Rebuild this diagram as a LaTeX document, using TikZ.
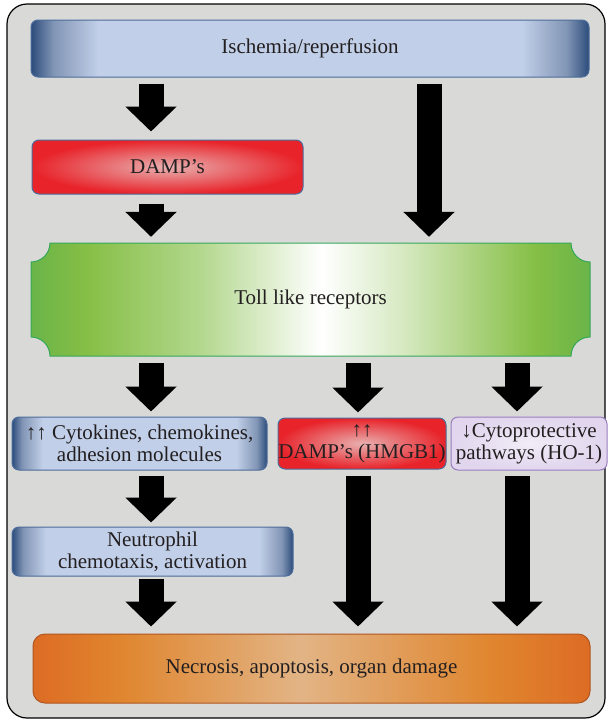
\documentclass[tikz,border=0pt]{standalone}
\usepackage{fontspec}
\setmainfont{Liberation Serif}
\usetikzlibrary{arrows.meta}
\usetikzlibrary{calc}

\definecolor{framegray}{HTML}{D9D9D8}
\definecolor{textgray}{HTML}{231F20}
\definecolor{bluedark}{HTML}{2C4C7C}
\definecolor{bluemid}{HTML}{8195B5}
\definecolor{bluelight}{HTML}{C1CFE8}
\definecolor{blueedge}{HTML}{4C6C9A}
\definecolor{damred}{HTML}{E8232A}
\definecolor{dampink}{HTML}{E8B0B0}
\definecolor{greenedge}{HTML}{35A75A}
\definecolor{greenA}{HTML}{6AB448}
\definecolor{greenB}{HTML}{86BF46}
\definecolor{greenC}{HTML}{B2D78C}
\definecolor{greenD}{HTML}{D8EAC4}
\definecolor{orangeA}{HTML}{DD6C24}
\definecolor{orangeB}{HTML}{E0862F}
\definecolor{orangeC}{HTML}{E2B485}
\definecolor{orangeedge}{HTML}{B0561F}
\definecolor{lilac}{HTML}{E1D6EE}
\definecolor{lilacin}{HTML}{F1ECF7}
\definecolor{lilacedge}{HTML}{9A7DBF}

\pgfdeclarehorizontalshading{blueshade}{100bp}{color(0bp)=(bluedark); color(25bp)=(bluedark); color(27bp)=(bluemid); color(31bp)=(bluelight); color(69bp)=(bluelight); color(73bp)=(bluemid); color(75bp)=(bluedark); color(100bp)=(bluedark)}
\pgfdeclarehorizontalshading{greenshade}{100bp}{color(0bp)=(greenA); color(25bp)=(greenA); color(30bp)=(greenB); color(40bp)=(greenC); color(51bp)=(white); color(58bp)=(greenD); color(70bp)=(greenB); color(75bp)=(greenA); color(100bp)=(greenA)}
\pgfdeclarehorizontalshading{orangeshade}{100bp}{color(0bp)=(orangeA); color(25bp)=(orangeA); color(33bp)=(orangeB); color(49bp)=(orangeC); color(66bp)=(orangeB); color(75bp)=(orangeA); color(100bp)=(orangeA)}

\begin{document}
\begin{tikzpicture}[x=1pt,y=-1pt,
boxtext/.style={text=textgray, font=\fontsize{21}{22}\selectfont, align=center, inner sep=0pt},
bluebox/.style={boxtext, draw=blueedge, line width=1pt, rounded corners=7pt, shade, shading=blueshade},
redbox/.style={boxtext, draw=blueedge, line width=1pt, rounded corners=7pt, inner color=dampink, outer color=damred},
lilacbox/.style={boxtext, draw=lilacedge, line width=1pt, rounded corners=7pt, inner color=lilacin, outer color=lilac},
orangebox/.style={boxtext, draw=orangeedge, line width=1pt, rounded corners=12pt, shade, shading=orangeshade},
fatarrow/.style={line width=25pt, -{Triangle[length=25pt,width=50pt]}}]
\useasboundingbox (0,0) rectangle (608,721);
\draw[line width=1.2pt, fill=framegray, rounded corners=20pt] (7,4) rectangle (605,718);
% columns of the arrows
\coordinate (colA) at (151,0);
\coordinate (colB) at (358,0);
\coordinate (colC) at (517,0);
\coordinate (colR) at (429,0);
\node[bluebox, minimum width=558pt, minimum height=57pt] (isch) at (310,48.5) {Ischemia/reperfusion};
\node[redbox, minimum width=271pt, minimum height=54pt] (damp) at (167.5,167) {DAMP's};
% toll like receptors, notched corners
\shade[shading=greenshade, draw=greenedge, line width=1pt] (50,243) -- (571,243) .. controls (571,253.5) and (579.5,262) .. (590,262) -- (590,337) .. controls (579.5,337) and (571,345.5) .. (571,356) -- (50,356) .. controls (50,345.5) and (41.5,337) .. (31,337) -- (31,262) .. controls (41.5,262) and (50,253.5) .. (50,243) -- cycle;
\node[boxtext, minimum width=559pt, minimum height=113pt] (toll) at (310.5,299.5) {Toll like receptors};
\node[bluebox, minimum width=255pt, minimum height=53pt] (cyto) at (139.5,443.5) {↑↑ Cytokines, chemokines,\\adhesion molecules};
\node[redbox, minimum width=168pt, minimum height=51pt] (hmgb) at (362,443.5) {↑↑\\DAMP's (HMGB1)};
\node[lilacbox, minimum width=156pt, minimum height=53pt] (ho) at (529,443.5) {↓Cytoprotective\\pathways (HO-1)};
\node[bluebox, minimum width=281pt, minimum height=49pt] (neut) at (152.5,551.5) {Neutrophil\\chemotaxis, activation};
\node[orangebox, minimum width=557pt, minimum height=69pt] (necro) at (311.5,668.5) {Necrosis, apoptosis, organ damage};
% arrows
\draw[fatarrow, shorten <=6pt, shorten >=8pt] (isch.south -| colA) -- (damp.north -| colA);
\draw[fatarrow, shorten <=9pt, shorten >=6pt] (damp.south -| colA) -- (toll.north -| colA);
\draw[fatarrow, shorten <=6pt, shorten >=6pt] (isch.south -| colR) -- (toll.north -| colR);
\foreach \b/\c in {cyto/colA, hmgb/colB, ho/colC}
 \draw[fatarrow, shorten <=7pt, shorten >=5pt] (toll.south -| \c) -- (\b.north -| \c);
\draw[fatarrow, shorten <=5pt, shorten >=4pt] (cyto.south -| colA) -- (neut.north -| colA);
\draw[fatarrow, shorten <=2pt, shorten >=7pt] (neut.south -| colA) -- (necro.north -| colA);
\draw[fatarrow, shorten <=6pt, shorten >=7pt] (hmgb.south -| colB) -- (necro.north -| colB);
\draw[fatarrow, shorten <=5pt, shorten >=7pt] (ho.south -| colC) -- (necro.north -| colC);
\end{tikzpicture}
\end{document}
